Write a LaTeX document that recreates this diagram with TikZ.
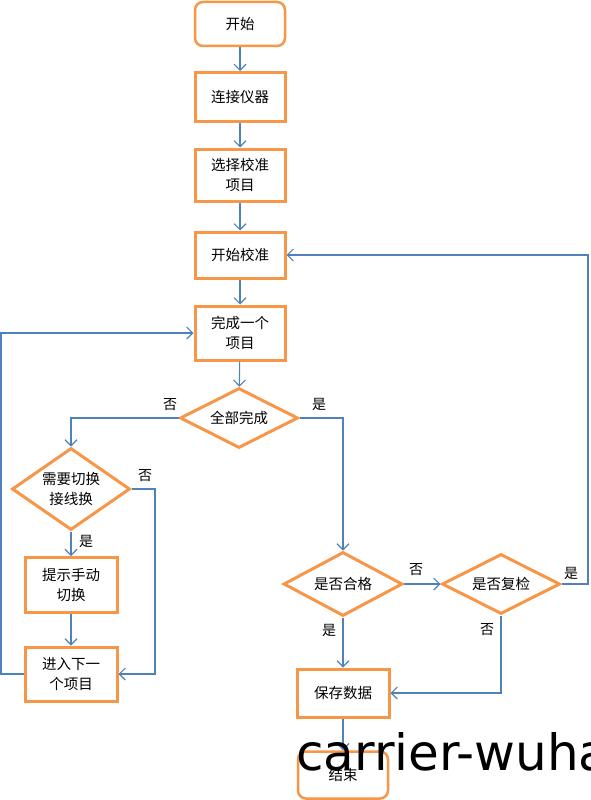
\documentclass[tikz,border=0pt]{standalone}
\usepackage{fontspec}
\newfontfamily\cjk{Noto Sans CJK SC}
\newfontfamily\markfont{DejaVu Sans}
\usetikzlibrary{shapes.geometric,arrows.meta}
\definecolor{boxOrange}{RGB}{247,150,70}
\definecolor{lineBlue}{RGB}{79,129,189}

\begin{document}
\begin{tikzpicture}[x=1pt, y=-1pt, >={Straight Barb[length=6pt,width=12pt]},
    box/.style={draw=boxOrange, line width=3pt, fill=white, minimum width=90pt,
      align=center, font=\cjk\fontsize{14.5}{20}\selectfont},
    endbox/.style={box, rounded corners=8pt, line width=2.5pt},
    choice/.style={diamond, draw=boxOrange, line width=3pt, fill=white, inner sep=0pt,
      aspect=2, align=center, font=\cjk\fontsize{14.5}{20}\selectfont},
    flow/.style={->, draw=lineBlue, line width=1.1pt},
    answer/.style={font=\cjk\fontsize{14}{16}\selectfont}]
    \useasboundingbox (0,0) rectangle (590,800);

    % main column
    \node[endbox, minimum height=44pt] (begin) at (240,24) {开始};
    \node[box, minimum height=49pt] (connect) at (240,97) {连接仪器};
    \node[box, minimum height=52pt] (select) at (240,175) {选择校准\\项目};
    \node[box, minimum height=46pt] (startCal) at (240,255) {开始校准};
    \node[box, minimum height=54pt] (oneDone) at (240,333) {完成一个\\项目};
    \node[choice, minimum width=118pt, minimum height=60pt] (allDone) at (239,418) {全部完成};

    % left branch
    \node[choice, aspect=1.6, minimum width=118pt, minimum height=82pt] (needSwitch) at (71,489) {需要切换\\接线换};
    \node[box, minimum width=92pt, minimum height=55pt] (manual) at (71,585) {提示手动\\切换};
    \node[box, minimum width=92pt, minimum height=54pt] (nextItem) at (71,674) {进入下一\\个项目};

    % right branch
    \node[choice, minimum width=119pt, minimum height=64pt] (qualified) at (343,584) {是否合格};
    \node[choice, minimum width=118pt, minimum height=60pt] (recheck) at (501,584) {是否复检};
    \node[box, minimum width=92pt, minimum height=48pt] (saveData) at (343,693) {保存数据};
    \node[endbox, minimum height=47pt] (finish) at (343,775) {结束};

    \coordinate (swRail) at (155,489);
    \coordinate (leftRail) at (1,674);
    \coordinate (rightRail) at (588,584);

    \draw[flow] (begin) -- (connect);
    \draw[flow] (connect) -- (select);
    \draw[flow] (select) -- (startCal);
    \draw[flow] (startCal) -- (oneDone);
    \draw[flow] (oneDone) -- (allDone);
    \draw[flow] (allDone.west) -| (needSwitch.north);
    \draw[flow] (allDone.east) -| (qualified.north);
    \draw[flow] (needSwitch) -- (manual);
    \draw[flow] (needSwitch.east) -- (swRail) |- (nextItem.east);
    \draw[flow] (manual) -- (nextItem);
    \draw[flow] (nextItem.west) -- (leftRail) |- (oneDone.west);
    \draw[flow] (qualified.east) -- (recheck.west);
    \draw[flow] (qualified) -- (saveData);
    \draw[flow] (recheck.south) |- (saveData.east);
    \draw[flow] (recheck.east) -- (rightRail) |- (startCal.east);
    \draw[flow] (saveData) -- (finish);

    \node[answer] (noAll) at (170,405) {否};
    \node[answer] (yesAll) at (319,404) {是};
    \node[answer] (noSwitch) at (145,476) {否};
    \node[answer] (yesSwitch) at (86,541) {是};
    \node[answer] (noQual) at (416,570) {否};
    \node[answer] (yesQual) at (329,630) {是};
    \node[answer] (noCheck) at (487,630) {否};
    \node[answer] (yesCheck) at (571,573) {是};

    % watermark
    \node[anchor=base west, inner sep=0pt, font=\markfont\fontsize{50}{52}\selectfont] (mark) at (296,770) {carrier-wuha};
\end{tikzpicture}
\end{document}
